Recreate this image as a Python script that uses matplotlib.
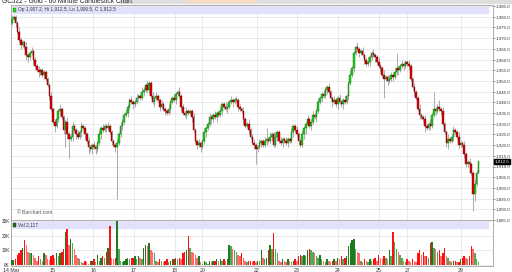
import matplotlib.pyplot as plt
import matplotlib.transforms as mtransforms
from matplotlib.patches import Rectangle
import numpy as np

plt.rcParams['font.family'] = ['Liberation Sans', 'DejaVu Sans']

# GCJ22 hourly candles, 14 Mar .. 29 Mar
first_open = 1977.0
closes = [
    1979, 1980, 1977, 1973, 1969, 1967, 1968, 1966, 1962, 1961,
    1963, 1964, 1960, 1957, 1955, 1954, 1955, 1953, 1954, 1951,
    1948, 1943, 1937, 1931, 1929, 1932, 1936, 1937, 1933, 1927,
    1931, 1925, 1923, 1924, 1929, 1927, 1925, 1924, 1926, 1929,
    1928, 1925, 1922, 1919, 1918, 1920, 1919, 1918, 1921, 1925,
    1928, 1927, 1929, 1928, 1929, 1926, 1922, 1920, 1919, 1921,
    1925, 1929, 1931, 1934, 1935, 1938, 1941, 1940, 1939, 1940,
    1942, 1943, 1942, 1945, 1946, 1948, 1946, 1949, 1943, 1940,
    1942, 1943, 1941, 1938, 1939, 1937, 1936, 1935, 1937, 1940,
    1942, 1941, 1944, 1945, 1943, 1938, 1935, 1934, 1936, 1935,
    1936, 1933, 1927, 1922, 1920, 1921, 1919, 1922, 1926, 1928,
    1930, 1933, 1932, 1934, 1933, 1935, 1934, 1936, 1939, 1938,
    1937, 1938, 1940, 1941, 1940, 1941, 1941, 1938, 1937, 1936,
    1932, 1929, 1930, 1927, 1924, 1921, 1920, 1918, 1919, 1921,
    1922, 1920, 1922, 1923, 1922, 1924, 1925, 1920, 1924, 1926,
    1922, 1921, 1923, 1922, 1921, 1923, 1922, 1926, 1929, 1927,
    1925, 1922, 1920, 1925, 1928, 1930, 1932, 1929, 1931, 1934,
    1933, 1936, 1940, 1942, 1944, 1943, 1946, 1947, 1945, 1942,
    1940, 1941, 1939, 1942, 1940, 1939, 1941, 1940, 1943, 1949,
    1953, 1956, 1963, 1966, 1965, 1963, 1964, 1962, 1960, 1958,
    1959, 1961, 1963, 1962, 1961, 1959, 1957, 1956, 1953, 1951,
    1952, 1950, 1951, 1953, 1952, 1954, 1956, 1955, 1957, 1958,
    1957, 1959, 1958, 1957, 1951, 1947, 1945, 1942, 1937, 1934,
    1933, 1932, 1929, 1928, 1930, 1929, 1934, 1937, 1936, 1938,
    1937, 1936, 1930, 1926, 1921, 1923, 1922, 1924, 1927, 1926,
    1924, 1920, 1921, 1920, 1916, 1911, 1912, 1911, 1907, 1897,
    1902, 1907.2, 1912.5,
]
wick_up = [
    2, 1, 1, 1, 2, 1, 1, 1, 2, 1, 1, 2, 1, 1, 1, 2, 1, 1, 1, 1,
    1, 1, 2, 1, 1, 2, 1, 2, 1, 1, 1, 2, 1, 1, 2, 1, 1, 2, 1, 2,
    1, 1, 1, 2, 1, 1, 2, 1, 1, 2, 1, 2, 1, 1, 2, 1, 1, 1, 1, 2,
    1, 2, 1, 1, 2, 1, 1, 2, 1, 1, 2, 1, 1, 2, 1, 1, 2, 1, 1, 2,
    1, 2, 1, 1, 2, 1, 1, 1, 2, 1, 1, 2, 1, 1, 2, 1, 1, 1, 2, 1,
    1, 1, 2, 1, 1, 2, 1, 1, 2, 1, 1, 2, 1, 1, 2, 1, 1, 2, 1, 1,
    2, 1, 1, 2, 1, 1, 2, 1, 1, 1, 2, 1, 1, 2, 1, 1, 2, 1, 1, 2,
    1, 1, 2, 5, 1, 2, 1, 1, 2, 1, 1, 2, 1, 1, 2, 1, 1, 2, 1, 1,
    2, 1, 1, 2, 1, 1, 2, 1, 1, 2, 1, 1, 2, 1, 1, 2, 1, 1, 2, 1,
    1, 2, 1, 1, 2, 1, 1, 2, 1, 1, 2, 1, 1, 1, 2, 1, 1, 2, 1, 1,
    2, 1, 1, 2, 1, 1, 2, 1, 1, 2, 1, 1, 2, 1, 1, 2, 7, 1, 1, 2,
    1, 1, 1, 2, 1, 1, 2, 1, 1, 2, 1, 1, 2, 1, 1, 2, 1, 8, 1, 1,
    3, 1, 2, 1, 1, 2, 1, 1, 2, 1, 1, 2, 1, 1, 2, 1, 1, 2, 1, 1,
    2, 1, 0,
]
wick_dn = [
    1, 1, 2, 1, 1, 2, 1, 1, 2, 2, 1, 1, 2, 1, 1, 2, 1, 1, 2, 1,
    1, 2, 1, 1, 3, 1, 1, 2, 1, 2, 8, 2, 9, 1, 2, 1, 2, 1, 1, 2,
    1, 2, 1, 3, 1, 2, 1, 2, 1, 1, 2, 1, 1, 2, 1, 1, 2, 1, 2, 24,
    1, 1, 2, 1, 1, 2, 1, 1, 2, 1, 1, 2, 1, 1, 2, 1, 1, 2, 1, 1,
    2, 1, 1, 2, 1, 1, 2, 1, 1, 2, 1, 1, 2, 1, 1, 2, 1, 1, 2, 1,
    1, 2, 1, 1, 2, 1, 2, 1, 1, 2, 1, 1, 2, 1, 1, 2, 1, 1, 2, 1,
    1, 2, 1, 1, 2, 1, 1, 2, 1, 1, 2, 1, 1, 2, 1, 1, 2, 7, 1, 1,
    2, 1, 1, 2, 1, 1, 2, 1, 1, 2, 1, 1, 2, 1, 1, 2, 1, 1, 2, 1,
    1, 2, 1, 1, 2, 3, 1, 1, 2, 1, 1, 2, 1, 1, 2, 1, 1, 2, 1, 1,
    2, 1, 1, 2, 1, 1, 2, 1, 1, 2, 1, 1, 2, 1, 1, 2, 1, 1, 2, 1,
    1, 2, 1, 1, 2, 1, 1, 2, 1, 9, 1, 2, 1, 1, 2, 1, 1, 2, 1, 1,
    2, 1, 1, 2, 1, 1, 2, 1, 1, 2, 1, 1, 3, 1, 1, 2, 1, 1, 2, 1,
    1, 2, 1, 1, 2, 3, 1, 1, 2, 1, 1, 2, 1, 1, 2, 1, 1, 2, 1, 8,
    3, 1, 0.7,
]
# volume in thousands of contracts
volume_k = [
    3.2, 3.5, 3.8, 7, 8, 10, 12, 17, 14, 9,
    8, 8.5, 7, 5, 3, 6, 4, 3, 8, 7,
    4, 3.5, 6, 7, 5, 8, 6, 8, 9, 11,
    23, 25, 14, 18, 15, 11, 7, 5, 4, 2,
    1.5, 3, 2, 1, 2.5, 3, 4, 2, 7, 3,
    5, 6, 5, 9, 12, 27, 5, 4, 4.5, 30,
    11, 3, 2, 2.5, 4, 5, 4, 5, 5, 6,
    4, 6, 5, 4, 12, 14, 13, 15, 10, 9,
    8, 3, 2, 4, 3, 2, 3, 4, 2, 3,
    4, 4, 5, 4, 5, 4, 8, 9, 10, 20,
    12, 9, 8, 7, 5, 6, 2, 1, 3, 2,
    1, 3, 2, 3, 3, 4, 3, 4, 3, 4,
    3, 4, 14, 13, 11, 10, 9, 7, 6, 8,
    5, 3, 2, 2.5, 3, 2, 3, 2, 3, 2.5,
    10, 5, 4, 5, 10, 14, 11, 22, 11, 8,
    3, 2, 4, 3, 2, 4, 3, 2, 3, 4,
    3, 6, 7, 6, 7, 6, 10, 11, 10, 9,
    8, 6, 5, 7, 4, 3, 2, 4, 3, 2,
    3, 4, 3, 5, 4, 6, 4, 5, 6, 13,
    15, 17, 18, 11, 9, 8, 3, 2, 4, 3,
    2, 4, 3, 4, 5, 3, 7, 5, 4, 6,
    5, 4, 10, 6, 23, 16, 11, 9, 7, 5,
    3, 2, 4, 3, 2, 4, 3, 2, 8, 10,
    7, 9, 6, 6, 5, 15, 16, 12, 11, 9,
    10, 6, 8, 12, 6, 5, 3, 2, 2.5, 3,
    2, 2, 4, 5, 6, 5, 4, 6, 13, 11,
    8, 4, 2.117,
]

day_ticks = [-0.5, 22.5, 45.5, 68.5, 91.5, 107, 137.5, 160, 183, 206, 222, 252]
day_labels = ["14 Mar", "15", "16", "17", "18", "20", "22", "23", "24", "25", "27", "29"]
price_ticks = np.arange(1885, 1986, 5)
vol_ticks = [0, 10, 20, 30]
vol_labels = ["0K", "10K", "20K", "30K"]

closes = np.array(closes, dtype=float)
opens = np.concatenate([[first_open], closes[:-1]])
highs = np.maximum(opens, closes) + np.array(wick_up)
lows = np.minimum(opens, closes) - np.array(wick_dn)
idx = np.arange(len(closes))
up = closes >= opens

grid_c = "#e2e2e2"
frame_c = "#a0a0a0"
txt_c = "#333333"

fig = plt.figure(figsize=(5.12, 2.72), dpi=100)
fig.patches.append(Rectangle((120 / 512, 1 - 2.5 / 272), 392 / 512, 2.5 / 272,
                             transform=fig.transFigure, color="#dedede", zorder=0))
fig.patches.append(Rectangle((187 / 512, 1 - 2 / 272), 69 / 512, 2 / 272,
                             transform=fig.transFigure, color="#f6dcc0", zorder=0))
fig.text(0.004, 1 - 3.2 / 272, "GCJ22 - Gold - 60 Minute Candlestick Chart",
         fontsize=4.8, color="#222222", va="baseline")

ax = fig.add_axes([11 / 512, 1 - 220 / 272, 482 / 512, 215 / 272])
axv = fig.add_axes([11 / 512, 1 - 266 / 272, 482 / 512, 46 / 272], sharex=ax)

# price panel
ax.vlines(idx, lows, highs, color="#8a8a8a", lw=0.5, zorder=3)
body_h = np.maximum(np.abs(closes - opens), 0.35)
ax.bar(idx[up], body_h[up], bottom=np.minimum(opens, closes)[up], width=0.9,
       color="#1ed21e", edgecolor="#0a6a0a", lw=0.3, zorder=4)
ax.bar(idx[~up], body_h[~up], bottom=np.minimum(opens, closes)[~up], width=0.9,
       color="#e00000", edgecolor="#700000", lw=0.3, zorder=4)

ax.set_xlim(-0.56, 270.2)
ax.set_ylim(1885, 1985.5)
ax.set_yticks(price_ticks)
ax.set_yticklabels([f"{p:,.1f}" for p in price_ticks])
ax.yaxis.tick_right()
ax.tick_params(axis="y", labelsize=3.2, length=1.5, width=0.4, pad=0.6,
               colors=txt_c)
ax.tick_params(axis="x", bottom=False, labelbottom=False)
ax.set_xticks(day_ticks)
ax.grid(True, color=grid_c, lw=0.5, zorder=0)
ax.set_axisbelow(True)
for s in ax.spines.values():
    s.set_color(frame_c)
    s.set_linewidth(0.6)

ax.add_patch(Rectangle((0.004, 0.963), 0.985, 0.028, transform=ax.transAxes,
                       color="#e1e1fb", zorder=1))
ax.add_patch(Rectangle((0.0045, 0.968), 0.006, 0.018, transform=ax.transAxes,
                       facecolor="#22dd22", edgecolor="#117711", lw=0.3, zorder=2))
ax.text(0.0145, 0.977, "Op 1,907.2, Hi 1,912.5, Lo 1,906.5, C 1,912.5",
        transform=ax.transAxes, fontsize=3.4, color=txt_c, va="center", zorder=2)
ax.text(0.0125, 0.033, "© Barchart.com", transform=ax.transAxes,
        fontsize=3.6, color="#555555", va="center")

last = closes[-1]
trans = mtransforms.blended_transform_factory(ax.transAxes, ax.transData)
ax.text(1.003, last, f"{last:,.1f}", transform=trans, fontsize=3.2,
        color="white", va="center", ha="left",
        bbox=dict(boxstyle="square,pad=0.12", fc="black", ec="black"))

# volume panel
prev = np.concatenate([[volume_k[0]], volume_k[:-1]])
vol_colors = []
for u, v, pv in zip(up, volume_k, prev):
    if u:
        vol_colors.append("#1f7a1f" if v >= pv else "#55a855")
    else:
        vol_colors.append("#ff1010" if v >= pv else "#ff6a6a")
axv.bar(idx, volume_k, width=0.8, color=vol_colors, zorder=3)
axv.set_ylim(-0.7, 31)
axv.set_yticks(vol_ticks)
axv.set_yticklabels(vol_labels)
axv.tick_params(axis="y", labelsize=3.4, length=0, pad=0.8, colors=txt_c)
axv.set_xticks(day_ticks)
axv.set_xticklabels(day_labels)
axv.tick_params(axis="x", labelsize=3.8, length=0, pad=1.2, colors=txt_c)
axv.grid(True, color=grid_c, lw=0.5, zorder=0)
axv.set_axisbelow(True)
for s in axv.spines.values():
    s.set_color(frame_c)
    s.set_linewidth(0.6)
axv.add_patch(Rectangle((0.004, 0.826), 0.985, 0.13, transform=axv.transAxes,
                        color="#e1e1fb", zorder=1))
axv.add_patch(Rectangle((0.0045, 0.85), 0.006, 0.085, transform=axv.transAxes,
                        facecolor="#1f6a1f", edgecolor="#0a3a0a", lw=0.3, zorder=2))
axv.text(0.0145, 0.89, "Vol 2,117", transform=axv.transAxes, fontsize=3.4,
         color=txt_c, va="center", zorder=2)

fig.savefig("out.png", dpi=100)
